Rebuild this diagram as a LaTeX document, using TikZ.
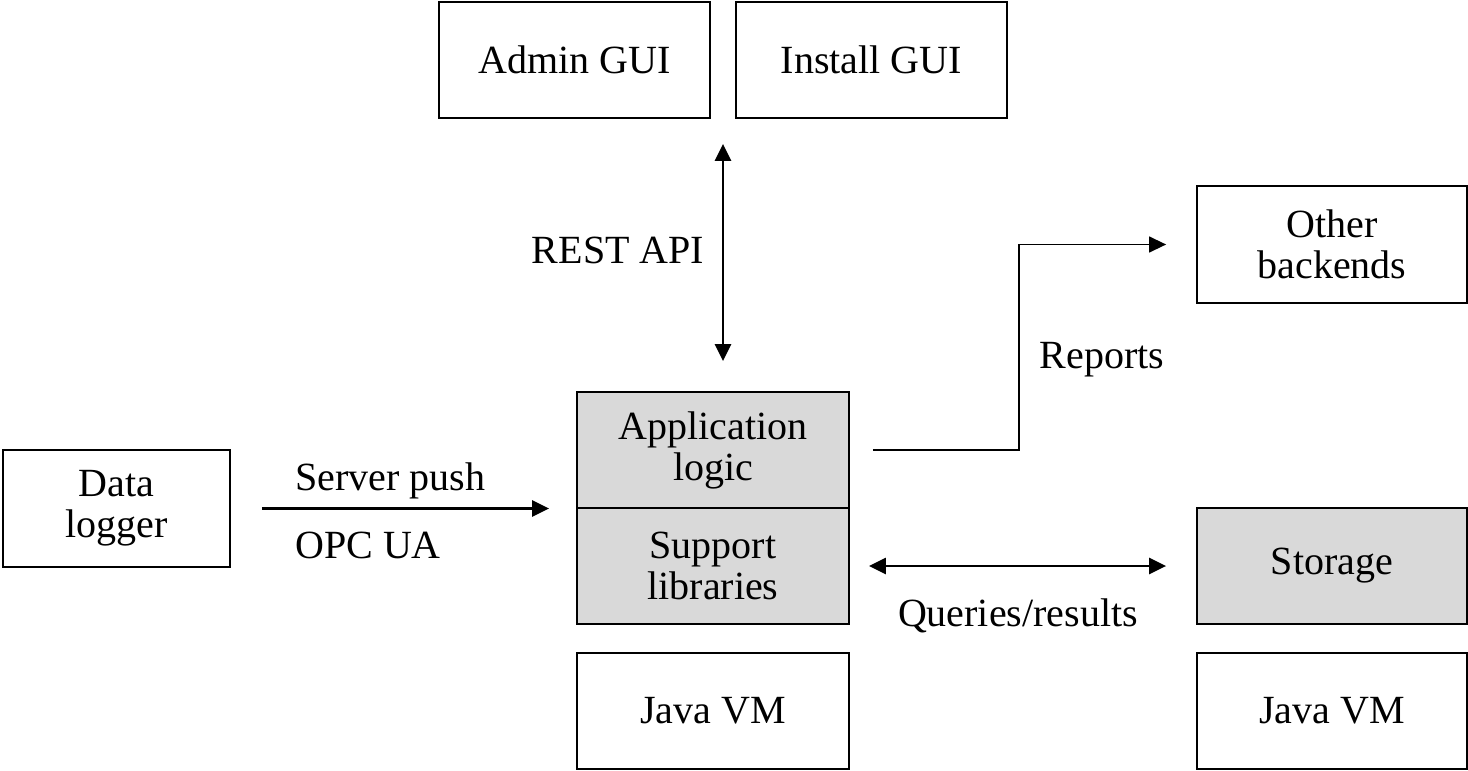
\documentclass[tikz,border=0pt]{standalone}
\usepackage{fontspec}
\setmainfont{Liberation Serif}
\usetikzlibrary{arrows.meta,calc}
\begin{document}
\begin{tikzpicture}[x=1pt,y=-1pt,
  txt/.style={font=\fontsize{40}{41}\selectfont, align=center, inner sep=0pt},
  box/.style={txt, draw=black, line width=1.8pt, minimum width=271pt, minimum height=116pt},
  graybox/.style={box, fill=gray85},
  tip/.style={-{Triangle[length=17pt,width=16pt]}},
  dtip/.style={{Triangle[length=17pt,width=16pt]}-{Triangle[length=17pt,width=16pt]}},
  conn/.style={line width=2.4pt},
  thinconn/.style={line width=1.4pt}]
\definecolor{gray85}{HTML}{D9D9D9}
\useasboundingbox (0,0) rectangle (1468,771);
% boxes
\node[box] (admin) at (574.5,60) {Admin GUI};
\node[box] (install) at (871.5,60) {Install GUI};
\node[box, minimum width=270pt, minimum height=117pt] (other) at (1332,244.5) {Other\\backends};
\node[graybox, minimum width=272pt] (app) at (713,450) {Application\\logic};
\node[graybox, minimum width=272pt] (support) at (713,566) {Support\\libraries};
\node[box, minimum width=272pt] (jvm1) at (713,711) {Java VM};
\node[box, minimum width=227pt, minimum height=117pt] (logger) at (116.5,508.5) {Data\\logger};
\node[graybox, minimum width=270pt] (storage) at (1332,566) {Storage};
\node[box, minimum width=270pt] (jvm2) at (1332,711) {Java VM};
% connectors
\coordinate (gap) at ($(admin.south east)!.5!(install.south west)$);
\draw[conn, dtip, shorten <=25pt, shorten >=30pt] (gap) -- (gap |- app.north);
\draw[conn, tip, shorten <=31pt, shorten >=27pt] (logger.east) -- (logger.east -| app.west);
\draw[conn, dtip, shorten <=19pt, shorten >=30pt] (support.east) -- (storage.west);
\coordinate (bend) at ($(app.east)+(169,0)$);
\draw[thinconn, tip, shorten <=23pt, shorten >=30pt] (app.east) -- (bend) |- (other.west);
% labels
\node[txt] (lrest) at (618,250) {REST API};
\node[txt, anchor=base west] (lpush) at (295,490) {Server push};
\node[txt, anchor=base west] (lopc) at (295,558) {OPC UA};
\node[txt] (lrep) at (1102,360) {Reports};
\node[txt] (lq) at (1018,616) {Queries/results};
\end{tikzpicture}
\end{document}
